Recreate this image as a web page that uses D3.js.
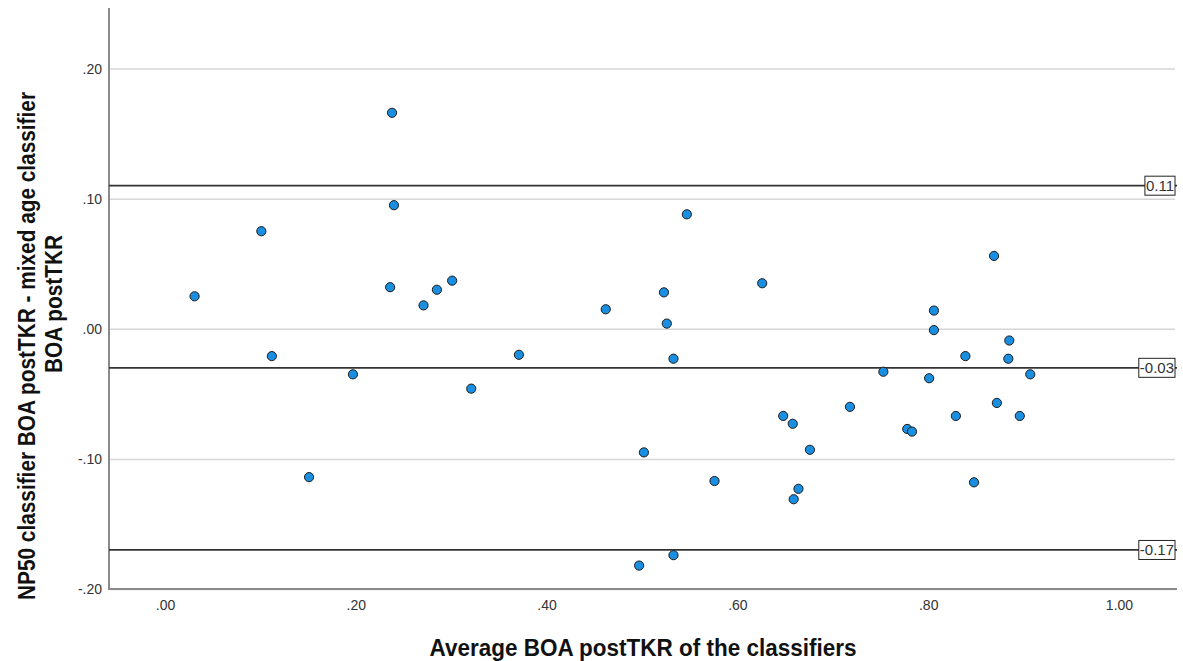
<!DOCTYPE html>
<html>
<head>
<meta charset="utf-8">
<script src="https://cdn.jsdelivr.net/npm/d3@7"></script>
<style>
  body { margin: 0; background: #fff; }
  text { font-family: "Liberation Sans", Arial, sans-serif; }
</style>
</head>
<body>
<script>
'use strict';

// average of the two classifiers (x) for each case
const avgValues = [
  0.238, 0.240, 0.101, 0.031, 0.236, 0.285, 0.301, 0.271, 0.112, 0.197, 0.321,
  0.462, 0.523, 0.526, 0.533, 0.626, 0.502, 0.576, 0.497, 0.533, 0.648, 0.658,
  0.676, 0.664, 0.659, 0.718, 0.753, 0.778, 0.783, 0.801, 0.806, 0.806, 0.839,
  0.829, 0.848, 0.869, 0.885, 0.884, 0.907, 0.872, 0.896, 0.151, 0.371, 0.547
];

// difference NP50 - mixed age (y) for each case
const diffValues = [
  0.166, 0.095, 0.075, 0.025, 0.032, 0.030, 0.037, 0.018, -0.021, -0.035, -0.046,
  0.015, 0.028, 0.004, -0.023, 0.035, -0.095, -0.117, -0.182, -0.174, -0.067, -0.073,
  -0.093, -0.123, -0.131, -0.060, -0.033, -0.077, -0.079, -0.038, 0.014, -0.001, -0.021,
  -0.067, -0.118, 0.056, -0.009, -0.023, -0.035, -0.057, -0.067, -0.114, -0.020, 0.088
];

// mean difference and limits of agreement
const refLines = [0.11, -0.03, -0.17];

const xTicks = [0, 0.2, 0.4, 0.6, 0.8, 1.0];
const yTicks = [0.2, 0.1, 0, -0.1, -0.2];

(function () {

  let svgContainer = "";

  window.onload = function () {
    svgContainer = d3.select('body')
      .append('svg')
      .attr('width', 1183)
      .attr('height', 661);

    let scales = drawAxes();
    plotRefLines(scales);
    plotData(scales);
    makeLabels();
  }

  // SPSS style numbers: .20, -.10, 1.00
  function spssFormat(d) {
    return d.toFixed(2).replace(/^(-?)0\./, '$1.');
  }

  // gridlines, axis lines and tick labels
  function drawAxes() {
    let xScale = d3.scaleLinear()
      .domain([-0.0587, 1.0608])
      .range([109, 1177]);

    let yScale = d3.scaleLinear()
      .domain([-0.2, 0.2458])
      .range([589, 9]);

    // horizontal gridlines
    svgContainer.append('g')
      .attr('transform', 'translate(109, 0)')
      .call(d3.axisLeft(yScale).tickValues(yTicks).tickSize(-1066).tickFormat(''))
      .call(g => g.select('.domain').remove())
      .call(g => g.selectAll('line')
        .attr('stroke', '#d6d6d6')
        .attr('stroke-width', 1.5));

    // y tick labels
    svgContainer.append('g')
      .attr('transform', 'translate(109, 0)')
      .call(d3.axisLeft(yScale).tickValues(yTicks).tickSize(0).tickPadding(7).tickFormat(spssFormat))
      .call(g => g.select('.domain').remove())
      .call(g => g.selectAll('text')
        .style('font-family', '"Liberation Sans", Arial, sans-serif')
        .style('font-size', '14px')
        .attr('fill', '#333'));

    // x tick labels (no tick marks)
    svgContainer.append('g')
      .attr('transform', 'translate(0, 589)')
      .call(d3.axisBottom(xScale).tickValues(xTicks).tickSize(0).tickPadding(11).tickFormat(spssFormat))
      .call(g => g.select('.domain').remove())
      .call(g => g.selectAll('text')
        .style('font-family', '"Liberation Sans", Arial, sans-serif')
        .style('font-size', '14px')
        .attr('fill', '#333'));

    // axis lines
    svgContainer.append('line')
      .attr('x1', 109).attr('y1', 8)
      .attr('x2', 109).attr('y2', 590)
      .attr('stroke', '#8a8a8a')
      .attr('stroke-width', 2);

    svgContainer.append('line')
      .attr('x1', 108).attr('y1', 589)
      .attr('x2', 1177).attr('y2', 589)
      .attr('stroke', '#8a8a8a')
      .attr('stroke-width', 2);

    return { x: xScale, y: yScale };
  }

  // mean and limits lines with boxed value labels
  function plotRefLines(scales) {
    let yScale = scales.y;

    svgContainer.selectAll('.refLine')
      .data(refLines)
      .enter()
      .append('line')
      .attr('class', 'refLine')
      .attr('x1', 109)
      .attr('x2', 1177)
      .attr('y1', function (d) { return yScale(d); })
      .attr('y2', function (d) { return yScale(d); })
      .attr('stroke', '#333')
      .attr('stroke-width', 1.8);

    let labels = svgContainer.selectAll('.refLabel')
      .data(refLines)
      .enter()
      .append('g')
      .attr('class', 'refLabel');

    labels.append('rect')
      .attr('y', function (d) { return yScale(d) - 9.5; })
      .attr('height', 19)
      .attr('fill', 'white')
      .attr('stroke', '#222')
      .attr('stroke-width', 1);

    labels.append('text')
      .attr('y', function (d) { return yScale(d) + 5.5; })
      .style('font-size', '15px')
      .attr('fill', '#333')
      .text(function (d) { return d.toFixed(2); });

    // size each box to its text, right edge at 1175
    labels.each(function () {
      let g = d3.select(this);
      let w = g.select('text').node().getComputedTextLength();
      g.select('rect').attr('x', 1175 - w - 2).attr('width', w + 2);
      g.select('text').attr('x', 1175 - w - 1);
    });
  }

  // scatter points
  function plotData(scales) {
    let xScale = scales.x;
    let yScale = scales.y;

    svgContainer.selectAll('.dot')
      .data(avgValues)
      .enter()
      .append('circle')
      .attr('class', 'dot')
      .attr('cx', function (d) { return xScale(d); })
      .attr('cy', function (d, i) { return yScale(diffValues[i]); })
      .attr('r', 4.6)
      .attr('fill', '#1a8ee0')
      .attr('stroke', '#1c1c1c')
      .attr('stroke-width', 1);
  }

  function makeLabels() {
    svgContainer.append('text')
      .attr('x', 643)
      .attr('y', 656)
      .attr('text-anchor', 'middle')
      .attr('textLength', 427)
      .attr('lengthAdjust', 'spacingAndGlyphs')
      .style('font-size', '23px')
      .style('font-weight', 'bold')
      .attr('fill', '#111')
      .text('Average BOA postTKR of the classifiers');

    // y title: two lines, condensed the same way
    let line1 = svgContainer.append('text')
      .attr('transform', 'translate(35, 346)rotate(-90)')
      .attr('text-anchor', 'middle')
      .style('font-size', '23px')
      .style('font-weight', 'bold')
      .attr('fill', '#111')
      .text('NP50 classifier BOA postTKR - mixed age classifier');

    let line2 = svgContainer.append('text')
      .attr('transform', 'translate(62, 304)rotate(-90)')
      .attr('text-anchor', 'middle')
      .style('font-size', '23px')
      .style('font-weight', 'bold')
      .attr('fill', '#111')
      .text('BOA postTKR');

    let ratio = 508 / line1.node().getComputedTextLength();
    line1.attr('textLength', 508).attr('lengthAdjust', 'spacingAndGlyphs');
    line2.attr('textLength', line2.node().getComputedTextLength() * ratio)
      .attr('lengthAdjust', 'spacingAndGlyphs');
  }

})();
</script>
</body>
</html>
